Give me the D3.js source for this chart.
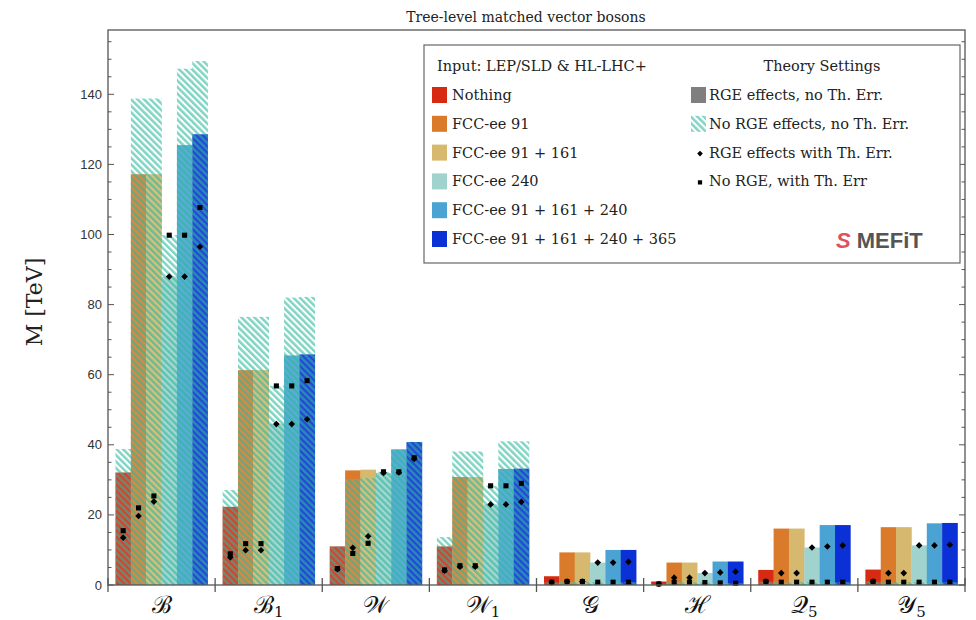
<!DOCTYPE html>
<html><head><meta charset="utf-8">
<script src="https://cdn.jsdelivr.net/npm/d3@7"></script>
<style>body{margin:0;background:#fff}</style>
</head><body>
<svg id="c" width="976" height="620"></svg>
<script>
// ---------------- data ----------------
const groups = ["B", "B1", "W", "W1", "G", "H", "Q5", "Y5"];
const groupGlyphs = ["ℬ", "ℬ", "𝒲", "𝒲", "𝒢", "ℋ", "𝒬", "𝒴"];
const groupSubs = ["", "1", "", "1", "", "", "5", "5"];
const inputs = ["Nothing", "FCC-ee 91", "FCC-ee 91 + 161", "FCC-ee 240", "FCC-ee 91 + 161 + 240", "FCC-ee 91 + 161 + 240 + 365"];
const inputColors = ["#d62b12", "#d97b2b", "#d6b86e", "#a0d2ce", "#4aa3d3", "#0b30d6"];
// RGE effects, no Th. Err. (solid bars)
const rgeNoTh = [
  [32.1, 117.2, 117.2, 88.0, 125.5, 128.6],
  [22.3, 61.3, 61.3, 46.0, 65.5, 65.8],
  [11.0, 32.7, 32.9, 32.0, 38.7, 40.8],
  [11.0, 30.8, 30.8, 23.0, 33.1, 33.2],
  [2.5, 9.3, 9.3, 6.4, 10.0, 10.0],
  [1.0, 6.4, 6.4, 3.4, 6.7, 6.7],
  [4.3, 16.1, 16.1, 10.7, 17.1, 17.1],
  [4.4, 16.5, 16.5, 11.3, 17.6, 17.7]
];
// No RGE effects, no Th. Err. (hatched bars)
const noRgeNoTh = [
  [38.8, 138.8, 138.8, 99.8, 147.3, 149.5],
  [27.1, 76.5, 76.5, 56.8, 82.0, 82.2],
  [11.0, 30.2, 30.5, 32.3, 38.6, 40.8],
  [13.7, 38.1, 38.1, 28.3, 41.0, 41.0],
  [0.8, 1.0, 1.0, 0.8, 0.8, 0.8],
  [0.3, 0.8, 0.8, 0.7, 0.6, 0.5],
  [1.0, 0.8, 0.8, 0.8, 0.8, 0.8],
  [1.0, 0.8, 0.8, 0.8, 0.8, 0.8]
];
// RGE effects with Th. Err. (diamonds)
const rgeTh = [
  [13.5, 19.7, 23.8, 88.0, 88.0, 96.5],
  [7.9, 9.9, 9.9, 45.9, 45.9, 47.3],
  [4.5, 10.6, 13.9, 32.0, 32.1, 36.0],
  [4.1, 5.2, 5.2, 23.0, 23.0, 23.7],
  [0.7, 1.0, 1.0, 6.4, 6.4, 6.6],
  [0.3, 2.1, 2.1, 3.4, 3.6, 3.8],
  [1.0, 3.4, 3.4, 10.7, 11.0, 11.3],
  [1.0, 3.4, 3.4, 11.3, 11.3, 11.5]
];
// No RGE, with Th. Err (squares)
const noRgeTh = [
  [15.5, 22.0, 25.4, 99.8, 99.8, 107.7],
  [8.9, 11.8, 11.8, 56.8, 56.8, 58.3],
  [4.7, 9.0, 11.9, 32.3, 32.3, 36.3],
  [4.3, 5.5, 5.5, 28.3, 28.3, 29.0],
  [0.8, 1.0, 1.0, 0.8, 0.8, 0.8],
  [0.3, 0.8, 0.8, 0.7, 0.6, 0.5],
  [1.0, 0.8, 0.8, 0.8, 0.8, 0.8],
  [1.0, 0.8, 0.8, 0.8, 0.8, 0.8]
];
const yTicks = [0, 20, 40, 60, 80, 100, 120, 140];
const theoryLabels = ["RGE effects, no Th. Err.", "No RGE effects, no Th. Err.", "RGE effects with Th. Err.", "No RGE, with Th. Err"];
const titleText = "Tree-level matched vector bosons";
const yLabel = "M [TeV]";
const legendTitle = "Input: LEP/SLD & HL-LHC+";
const legendTitle2 = "Theory Settings";

// ---------------- layout ----------------
const m = {l: 108, r: 965, t: 30, b: 585};
const serif = "'DejaVu Serif', 'Liberation Serif', serif";
const sans = "'Liberation Sans', Arial, sans-serif";
const svg = d3.select("#c");

const defs = svg.append("defs");
const pat = defs.append("pattern").attr("id", "hatch")
  .attr("patternUnits", "userSpaceOnUse").attr("width", 4.6).attr("height", 4.6)
  .attr("patternTransform", "rotate(-45)");
pat.append("rect").attr("width", 4.6).attr("height", 4.6).attr("fill", "#fff").attr("fill-opacity", 0.1);
pat.append("rect").attr("width", 2.5).attr("height", 4.6).attr("fill", "#2bb89c").attr("fill-opacity", 0.6);

const x = d3.scaleBand().domain(groups).range([m.l, m.r]).padding(0);
const xi = d3.scaleBand().domain(d3.range(inputs.length)).range([7.5, x.bandwidth() - 7.5]).padding(0);
const y = d3.scaleLinear().domain([0, (m.b - m.t) / 3.505]).range([m.b, m.t]);

const sqPath = d3.symbol(d3.symbolSquare, 26)();
const dmPath = d3.symbol(d3.symbolSquare, 22)();

// bars
const g = svg.append("g");
groups.forEach((grp, gi) => {
  const gg = g.append("g").attr("transform", `translate(${x(grp)},0)`);
  gg.selectAll("rect.solid").data(rgeNoTh[gi]).join("rect").attr("class", "solid")
    .attr("x", (d, i) => xi(i)).attr("width", xi.bandwidth() + 0.3)
    .attr("y", d => y(d)).attr("height", d => y(0) - y(d))
    .attr("fill", (d, i) => inputColors[i]);
  gg.selectAll("rect.hatch").data(noRgeNoTh[gi]).join("rect").attr("class", "hatch")
    .attr("x", (d, i) => xi(i)).attr("width", xi.bandwidth() + 0.3)
    .attr("y", d => y(d)).attr("height", d => y(0) - y(d))
    .attr("fill", "url(#hatch)");
  gg.selectAll("path.sq").data(noRgeTh[gi]).join("path").attr("class", "sq")
    .attr("d", sqPath)
    .attr("transform", (d, i) => `translate(${xi(i) + xi.bandwidth() / 2},${y(d)})`)
    .attr("fill", "#000");
  gg.selectAll("path.dm").data(rgeTh[gi]).join("path").attr("class", "dm")
    .attr("d", dmPath)
    .attr("transform", (d, i) => `translate(${xi(i) + xi.bandwidth() / 2},${y(d)}) rotate(45)`)
    .attr("fill", "#000");
});

// frame
svg.append("rect").attr("x", m.l).attr("y", m.t).attr("width", m.r - m.l).attr("height", m.b - m.t)
  .attr("fill", "none").attr("stroke", "#555").attr("stroke-width", 1.3);

// y axis (inward ticks) left and right
const minor = d3.range(0, 156, 5);
const ax = svg.append("g").attr("stroke", "#555").attr("stroke-width", 1);
ax.selectAll("line.mn").data(minor).join("line")
  .attr("x1", m.l).attr("x2", d => m.l + (d % 20 === 0 ? 6 : 3.5)).attr("y1", d => y(d)).attr("y2", d => y(d));
ax.selectAll("line.mnr").data(minor).join("line")
  .attr("x1", m.r).attr("x2", d => m.r - (d % 20 === 0 ? 6 : 3.5)).attr("y1", d => y(d)).attr("y2", d => y(d));
svg.append("g").selectAll("text").data(yTicks).join("text")
  .attr("x", m.l - 6).attr("y", d => y(d) + 4.5).attr("text-anchor", "end")
  .attr("font-family", sans).attr("font-size", 13).attr("fill", "#333").text(d => d);

// x boundary ticks
const bounds = groups.map(gp => x(gp)).concat([m.r]);
svg.append("g").selectAll("line").data(bounds).join("line")
  .attr("x1", d => d).attr("x2", d => d).attr("y1", m.b - 7).attr("y2", m.b + 7)
  .attr("stroke", "#555").attr("stroke-width", 1.3);

// group labels
const gl = svg.append("g").selectAll("text").data(groups).join("text")
  .attr("x", d => x(d) + x.bandwidth() / 2).attr("y", 613).attr("text-anchor", "middle")
  .attr("font-family", serif).attr("font-size", 24).attr("fill", "#111");
gl.append("tspan").text((d, i) => groupGlyphs[i]);
gl.append("tspan").attr("font-size", 15).attr("dy", 4).text((d, i) => groupSubs[i]);

// title + y label
svg.append("text").attr("x", 526).attr("y", 22).attr("text-anchor", "middle")
  .attr("font-family", serif).attr("font-size", 14).attr("fill", "#222").text(titleText);
svg.append("text").attr("transform", "translate(42,302) rotate(-90)").attr("text-anchor", "middle")
  .attr("font-family", serif).attr("font-size", 22).attr("fill", "#222").text(yLabel);

// legend
const L = svg.append("g");
L.append("rect").attr("x", 424).attr("y", 45).attr("width", 536).attr("height", 218)
  .attr("fill", "#fff").attr("stroke", "#666").attr("stroke-width", 1.2);
const fs = 14.5;
L.append("text").attr("x", 437).attr("y", 71).attr("font-family", serif).attr("font-size", fs).attr("fill", "#222").text(legendTitle);
L.append("text").attr("x", 822).attr("y", 71).attr("text-anchor", "middle").attr("font-family", serif).attr("font-size", fs).attr("fill", "#222").text(legendTitle2);
const rowY = d3.scaleLinear().domain([0, 5]).range([95, 239]);
inputs.forEach((name, i) => {
  L.append("rect").attr("x", 432).attr("y", rowY(i) - 8).attr("width", 15).attr("height", 16).attr("fill", inputColors[i]);
  L.append("text").attr("x", 452).attr("y", rowY(i) + 5).attr("font-family", serif).attr("font-size", fs).attr("fill", "#222").text(name);
});
theoryLabels.forEach((name, i) => {
  const cy = rowY(i);
  if (i === 0) L.append("rect").attr("x", 691).attr("y", cy - 8).attr("width", 15).attr("height", 16).attr("fill", "#7f7f7f");
  if (i === 1) {
    L.append("rect").attr("x", 691).attr("y", cy - 8).attr("width", 15).attr("height", 16).attr("fill", "#fff");
    L.append("rect").attr("x", 691).attr("y", cy - 8).attr("width", 15).attr("height", 16).attr("fill", "url(#hatch)");
  }
  if (i === 2) L.append("path").attr("d", d3.symbol(d3.symbolSquare, 16)()).attr("transform", `translate(700,${cy + 1}) rotate(45)`).attr("fill", "#000");
  if (i === 3) L.append("path").attr("d", d3.symbol(d3.symbolSquare, 18)()).attr("transform", `translate(700,${cy + 1})`).attr("fill", "#000");
  L.append("text").attr("x", 709).attr("y", cy + 5).attr("font-family", serif).attr("font-size", fs).attr("fill", "#222").text(name);
});
// MEFiT logo (text)
const logo = L.append("text").attr("x", 836).attr("y", 248).attr("font-family", sans).attr("font-weight", "bold").attr("font-size", 22);
logo.append("tspan").attr("fill", "#e0505e").attr("font-style", "italic").text("S");
logo.append("tspan").attr("dx", 6).attr("fill", "#555").text("MEFiT");
</script>
</body></html>
